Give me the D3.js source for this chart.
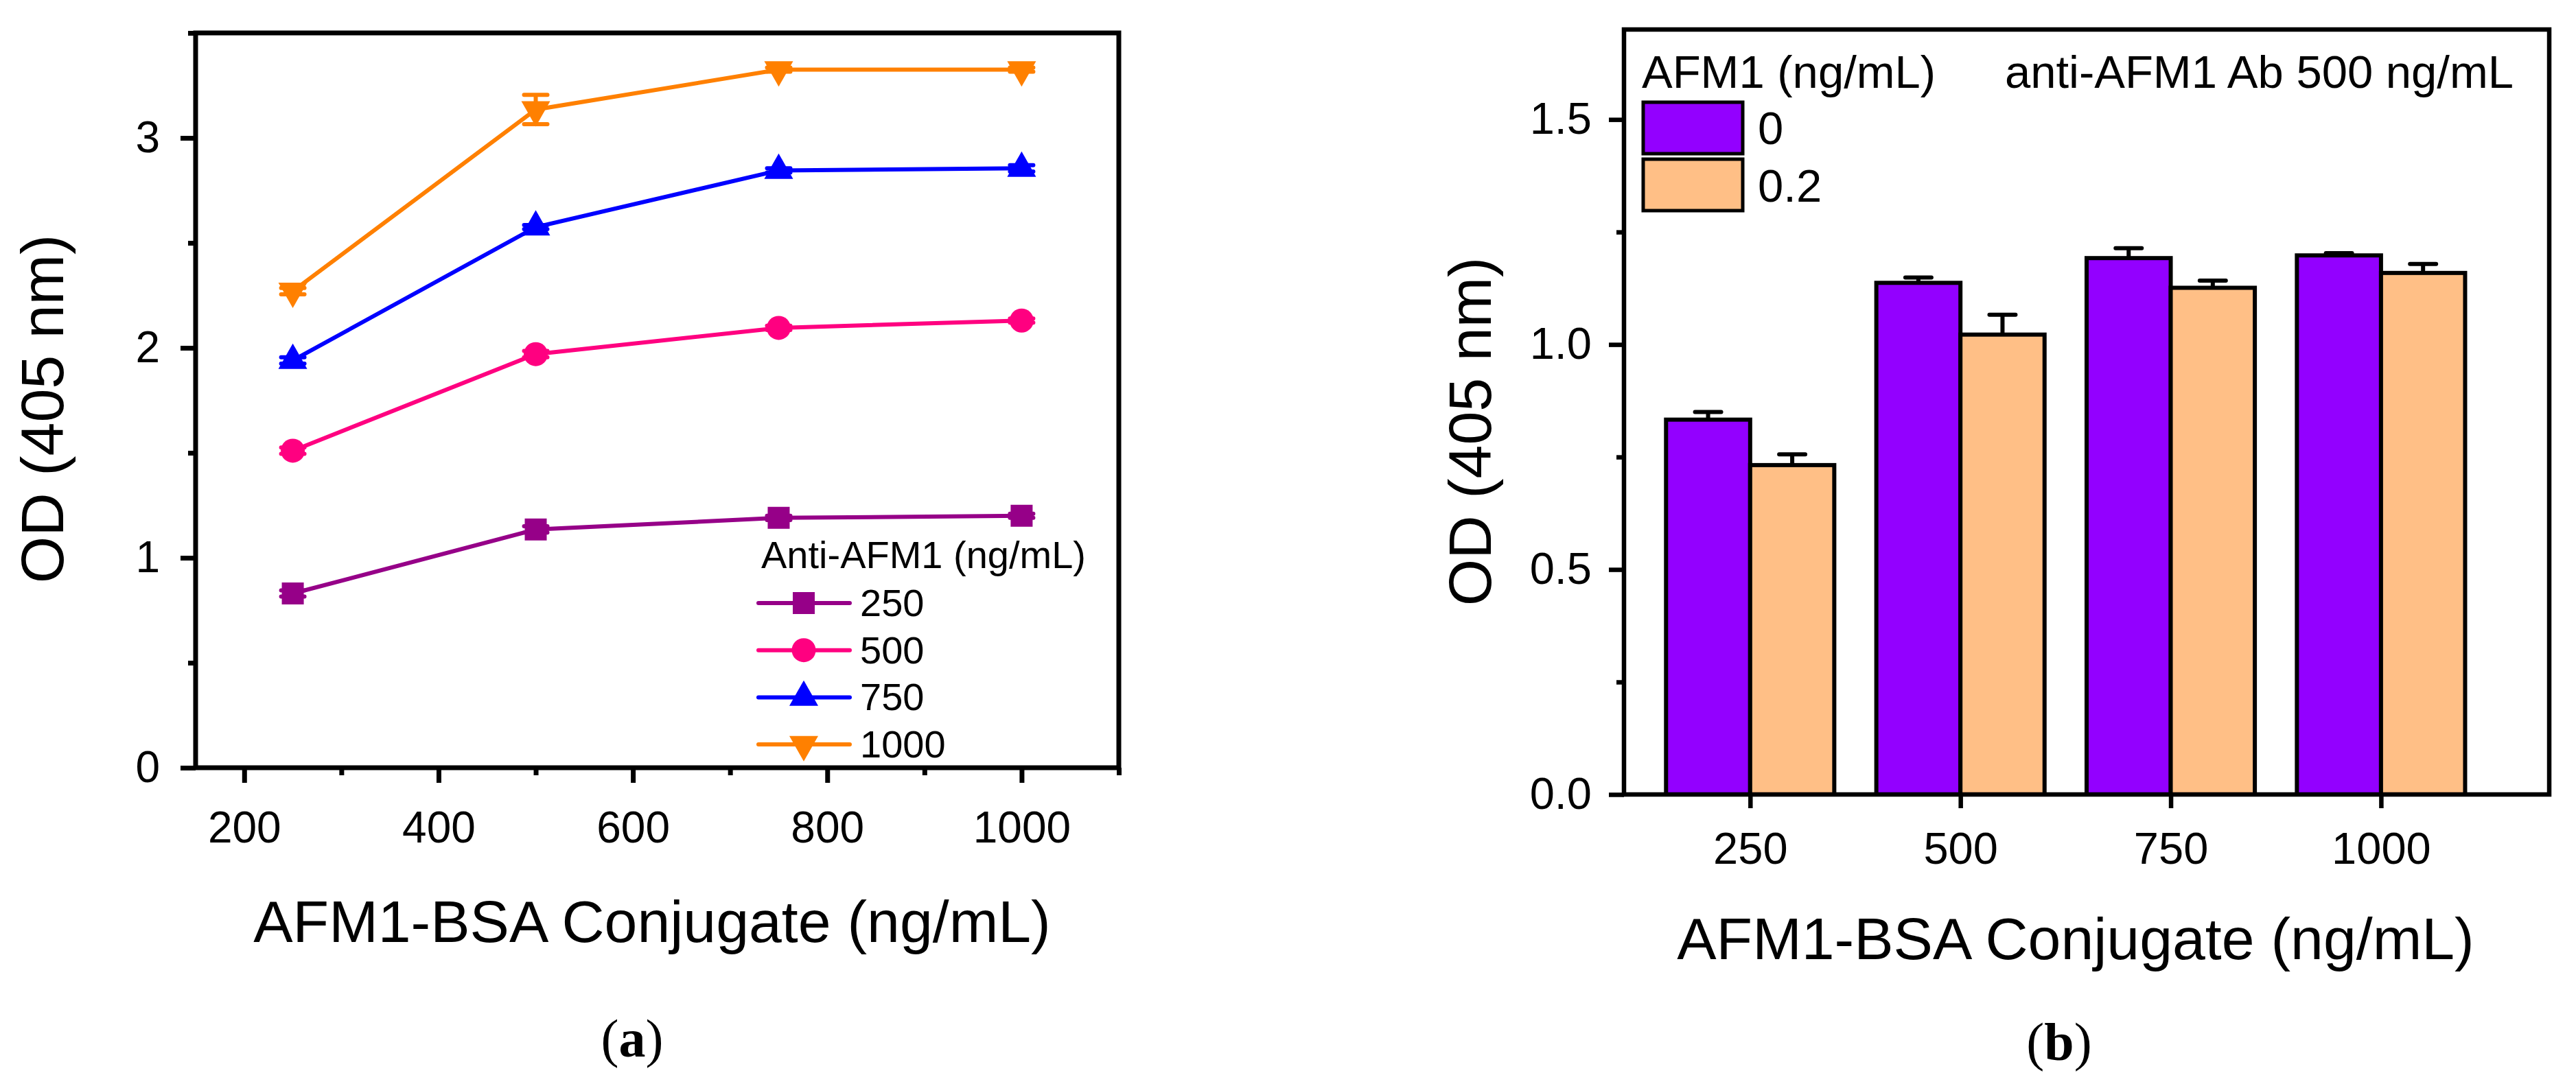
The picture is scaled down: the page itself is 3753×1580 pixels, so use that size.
<!DOCTYPE html>
<html>
<head>
<meta charset="utf-8">
<script src="https://cdn.jsdelivr.net/npm/d3@7"></script>
<style>
  body { margin: 0; background: #fff; }
  svg { display: block; }
</style>
</head>
<body>
<div id="figure"></div>
<script>
// ---- data ----
const conjugate = [250, 500, 750, 1000]
const antibodyLevels = ['250', '500', '750', '1000']
const od250 = [0.83, 1.135, 1.19, 1.20]
const od500 = [1.51, 1.97, 2.095, 2.13]
const od750 = [1.94, 2.575, 2.845, 2.855]
const od1000 = [2.27, 3.135, 3.325, 3.325]
const err250 = [0.015, 0.015, 0.01, 0.01]
const err500 = [0.015, 0.015, 0.01, 0.01]
const err750 = [0.015, 0.01, 0.01, 0.015]
const err1000 = [0.015, 0.07, 0.01, 0.01]
const lineXTicks = [200, 400, 600, 800, 1000]
const lineXMinor = [300, 500, 700, 900, 1100]
const lineYTicks = [0, 1, 2, 3]
const lineYMinor = [0.5, 1.5, 2.5, 3.5]

const barCategories = ['250', '500', '750', '1000']
const afm1Levels = ['0', '0.2']
const odAfm0 = [0.833, 1.137, 1.192, 1.198]
const odAfm02 = [0.732, 1.022, 1.126, 1.159]
const errAfm0 = [0.017, 0.012, 0.022, 0.005]
const errAfm02 = [0.024, 0.044, 0.016, 0.02]
const barYTicks = [0, 0.5, 1.0, 1.5]
const barYMinor = [0.25, 0.75, 1.25]

const FONT = "'Liberation Sans', Arial, Helvetica, sans-serif"
const SERIF = "'Liberation Serif', 'Times New Roman', serif"

const svg = d3.select('#figure')
  .append('svg')
  .attr('width', 3753)
  .attr('height', 1580)

svg.append('rect').attr('width', 3753).attr('height', 1580).attr('fill', '#fff')

/**
 * Styles an axis group drawn by d3.
 */
const styleAxis = (g, fontSize, strokeWidth) => {
  g.select('.domain').remove()
  g.attr('font-family', FONT).attr('font-size', fontSize)
  g.selectAll('line').attr('stroke', '#000').attr('stroke-width', strokeWidth)
  g.selectAll('text').attr('fill', '#000')
}

/**
 * Marker shapes used by the line chart.
 */
const markerPath = shape => {
  if (shape === 'square') {
    return 'M-16,-16H16V16H-16Z'
  } else if (shape === 'circle') {
    return d3.symbol(d3.symbolCircle, Math.PI * 17.5 * 17.5)()
  } else if (shape === 'up') {
    return 'M0,-24.7L21,12.3L-21,12.3Z'
  }
  return 'M0,24.7L21,-12.3L-21,-12.3Z'
}

// ================= (a) line chart =================
const buildLineChart = () => {
  const x = d3.scaleLinear().domain([150, 1100]).range([285, 1630])
  const y = d3.scaleLinear().domain([0, 3.5]).range([1119, 48])
  const chart = svg.append('g')

  const series = [
    {name: antibodyLevels[0], values: od250, errors: err250, color: '#960088', shape: 'square'},
    {name: antibodyLevels[1], values: od500, errors: err500, color: '#FF0080', shape: 'circle'},
    {name: antibodyLevels[2], values: od750, errors: err750, color: '#0000FF', shape: 'up'},
    {name: antibodyLevels[3], values: od1000, errors: err1000, color: '#FF8000', shape: 'down'}
  ]

  // Axes
  chart.append('g')
    .attr('transform', 'translate(0,1119)')
    .call(d3.axisBottom(x).tickValues(lineXTicks).tickSize(22).tickSizeOuter(0).tickPadding(42)
      .tickFormat(d3.format('d')))
    .call(g => styleAxis(g, 64, 7))
  chart.append('g')
    .attr('transform', 'translate(0,1119)')
    .call(d3.axisBottom(x).tickValues(lineXMinor).tickSize(11).tickSizeOuter(0).tickFormat(''))
    .call(g => styleAxis(g, 64, 7))
  chart.append('g')
    .attr('transform', 'translate(285,0)')
    .call(d3.axisLeft(y).tickValues(lineYTicks).tickSize(22).tickSizeOuter(0).tickPadding(30)
      .tickFormat(d3.format('d')))
    .call(g => styleAxis(g, 64, 7))
  chart.append('g')
    .attr('transform', 'translate(285,0)')
    .call(d3.axisLeft(y).tickValues(lineYMinor).tickSize(11).tickSizeOuter(0).tickFormat(''))
    .call(g => styleAxis(g, 64, 7))

  chart.append('rect')
    .attr('x', x(150)).attr('y', y(3.5))
    .attr('width', x(1100) - x(150)).attr('height', y(0) - y(3.5))
    .attr('fill', 'none').attr('stroke', '#000').attr('stroke-width', 7)

  const line = d3.line().x((d, i) => x(conjugate[i])).y(d => y(d))

  series.forEach(s => {
    const g = chart.append('g')
    g.append('path')
      .attr('d', line(s.values))
      .attr('fill', 'none')
      .attr('stroke', s.color)
      .attr('stroke-width', 6)

    // Error bars
    g.selectAll('path.err')
      .data(s.values)
      .enter()
      .append('path')
      .attr('class', 'err')
      .attr('d', (d, i) => {
        const cx = x(conjugate[i])
        const top = y(d + s.errors[i])
        const bot = y(d - s.errors[i])
        return `M${cx},${top}V${bot}M${cx - 17},${top}H${cx + 17}M${cx - 17},${bot}H${cx + 17}`
      })
      .attr('fill', 'none')
      .attr('stroke', s.color)
      .attr('stroke-width', 6)
      .attr('stroke-linecap', 'round')

    g.selectAll('path.marker')
      .data(s.values)
      .enter()
      .append('path')
      .attr('class', 'marker')
      .attr('d', markerPath(s.shape))
      .attr('transform', (d, i) => `translate(${x(conjugate[i])},${y(d)})`)
      .attr('fill', s.color)
  })

  // Legend
  const legend = chart.append('g').attr('font-family', FONT)
  legend.append('text')
    .attr('x', 1109).attr('y', 828)
    .attr('font-size', 56)
    .text('Anti-AFM1 (ng/mL)')
  series.forEach((s, i) => {
    const ly = 879 + i * 68.7
    legend.append('line')
      .attr('x1', 1105).attr('x2', 1238).attr('y1', ly).attr('y2', ly)
      .attr('stroke', s.color).attr('stroke-width', 6).attr('stroke-linecap', 'round')
    legend.append('path')
      .attr('d', markerPath(s.shape))
      .attr('transform', `translate(1171,${ly})`)
      .attr('fill', s.color)
    legend.append('text')
      .attr('x', 1253).attr('y', ly + 19)
      .attr('font-size', 56)
      .text(s.name)
  })

  // Titles
  chart.append('text')
    .attr('transform', 'translate(92,596) rotate(-90)')
    .attr('text-anchor', 'middle')
    .attr('font-family', FONT).attr('font-size', 88)
    .text('OD (405 nm)')
  chart.append('text')
    .attr('x', 950).attr('y', 1373)
    .attr('text-anchor', 'middle')
    .attr('font-family', FONT).attr('font-size', 86)
    .text('AFM1-BSA Conjugate (ng/mL)')
  const cap = chart.append('text')
    .attr('x', 921).attr('y', 1540)
    .attr('text-anchor', 'middle')
    .attr('font-family', SERIF).attr('font-size', 78)
  cap.append('tspan').text('(')
  cap.append('tspan').attr('font-weight', 'bold').text('a')
  cap.append('tspan').text(')')
}

// ================= (b) bar chart =================
const buildBarChart = () => {
  const x = d3.scaleLinear().domain([0.4, 4.8]).range([2366, 3714])
  const y = d3.scaleLinear().domain([0, 1.7]).range([1158, 43])
  const chart = svg.append('g')
  const barWidth = 0.4

  const groups = [
    {name: afm1Levels[0], values: odAfm0, errors: errAfm0, color: '#9300FF', offset: -barWidth},
    {name: afm1Levels[1], values: odAfm02, errors: errAfm02, color: '#FFBF86', offset: 0}
  ]

  // Axes
  chart.append('g')
    .attr('transform', 'translate(0,1158)')
    .call(d3.axisBottom(x).tickValues([1, 2, 3, 4]).tickSize(20).tickSizeOuter(0).tickPadding(35)
      .tickFormat(d => barCategories[d - 1]))
    .call(g => styleAxis(g, 65, 6.5))
  chart.append('g')
    .attr('transform', 'translate(2366,0)')
    .call(d3.axisLeft(y).tickValues(barYTicks).tickSize(22).tickSizeOuter(0).tickPadding(25)
      .tickFormat(d3.format('.1f')))
    .call(g => styleAxis(g, 65, 6.5))
  chart.append('g')
    .attr('transform', 'translate(2366,0)')
    .call(d3.axisLeft(y).tickValues(barYMinor).tickSize(11).tickSizeOuter(0).tickFormat(''))
    .call(g => styleAxis(g, 65, 6.5))

  // Error bars (upper half only, drawn under the bars)
  groups.forEach((grp, gi) => {
    chart.append('g')
      .selectAll('path')
      .data(grp.values)
      .enter()
      .append('path')
      .attr('class', `err-${gi}`)
      .attr('d', (d, i) => {
        const cx = x(i + 1 + grp.offset + barWidth / 2)
        const top = y(d + grp.errors[i])
        return `M${cx},${y(d)}V${top}M${cx - 19},${top}H${cx + 19}`
      })
      .attr('fill', 'none')
      .attr('stroke', '#000')
      .attr('stroke-width', 6)
      .attr('stroke-linecap', 'round')
  })

  // Bars
  groups.forEach((grp, gi) => {
    chart.append('g')
      .selectAll('rect')
      .data(grp.values)
      .enter()
      .append('rect')
      .attr('class', `bar-${gi}`)
      .attr('x', (d, i) => x(i + 1 + grp.offset))
      .attr('y', d => y(d))
      .attr('width', x(barWidth) - x(0))
      .attr('height', d => y(0) - y(d))
      .attr('fill', grp.color)
      .attr('stroke', '#000')
      .attr('stroke-width', 6)
  })

  chart.append('rect')
    .attr('x', x(0.4)).attr('y', y(1.7))
    .attr('width', x(4.8) - x(0.4)).attr('height', y(0) - y(1.7))
    .attr('fill', 'none').attr('stroke', '#000').attr('stroke-width', 6.5)

  // Legend
  const legend = chart.append('g').attr('font-family', FONT).attr('font-size', 67)
  legend.append('text').attr('x', 2392).attr('y', 128).text('AFM1 (ng/mL)')
  legend.append('text').attr('x', 3662).attr('y', 128).attr('text-anchor', 'end')
    .text('anti-AFM1 Ab 500 ng/mL')
  groups.forEach((grp, i) => {
    legend.append('rect')
      .attr('x', 2394).attr('y', 149 + i * 83)
      .attr('width', 145).attr('height', 75)
      .attr('fill', grp.color)
      .attr('stroke', '#000').attr('stroke-width', 5)
    legend.append('text')
      .attr('x', 2561).attr('y', 210 + i * 84)
      .text(grp.name)
  })

  // Titles
  chart.append('text')
    .attr('transform', 'translate(2172,629) rotate(-90)')
    .attr('text-anchor', 'middle')
    .attr('font-family', FONT).attr('font-size', 88)
    .text('OD (405 nm)')
  chart.append('text')
    .attr('x', 3024).attr('y', 1398)
    .attr('text-anchor', 'middle')
    .attr('font-family', FONT).attr('font-size', 86)
    .text('AFM1-BSA Conjugate (ng/mL)')
  const cap = chart.append('text')
    .attr('x', 3000).attr('y', 1545)
    .attr('text-anchor', 'middle')
    .attr('font-family', SERIF).attr('font-size', 78)
  cap.append('tspan').text('(')
  cap.append('tspan').attr('font-weight', 'bold').text('b')
  cap.append('tspan').text(')')
}

buildLineChart()
buildBarChart()
</script>
</body>
</html>
